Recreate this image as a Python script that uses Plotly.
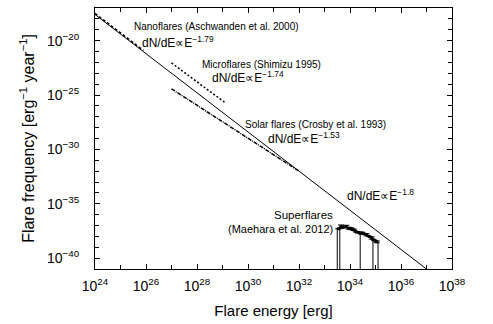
import numpy as np
import plotly.graph_objects as go

# ---- data (log10 units) ----
# power-law segments: [logE_start, logE_end], [logF_start, logF_end]
main_logE = [24.0, 37.0]
main_logF = [-17.6, -41.0]
nano_logE = [24.0, 25.9]
nano_logF = [-17.5, -20.9]
micro_logE = [27.0, 29.1]
micro_logF = [-22.05, -25.7]
solar_logE = [27.0, 32.0]
solar_logF = [-24.43, -32.0]

# superflare histogram (Maehara et al. 2012), 0.1-dex bins
sf_edges = [33.5, 33.6, 33.7, 33.8, 33.9, 34.0, 34.1, 34.2, 34.3, 34.4,
            34.5, 34.6, 34.7, 34.8, 34.9, 35.0, 35.1]
sf_logF = [-37.3, -37.1, -37.15, -37.1, -37.25, -37.3, -37.4, -37.6,
           -37.65, -37.7, -37.75, -37.85, -38.0, -38.15, -38.35, -38.5]
sf_err = [0.0, 0.15, 0.0, 0.12, 0.08, 0.08, 0.06, 0.0,
          0.0, 0.1, 0.0, 0.1, 0.0, 0.1, 0.0, 0.08]
sf_box_edges = [33.5, 33.6, 34.4, 34.9, 35.1]

x_tickvals = [24, 26, 28, 30, 32, 34, 36, 38]
x_minor = [25, 27, 29, 31, 33, 35, 37]
y_tickvals = [-40, -35, -30, -25, -20]
y_minor = [-41, -39, -38, -37, -36, -34, -33, -32, -31, -29, -28, -27,
           -26, -24, -23, -22, -21, -19, -18, -17]

FONT = "Liberation Sans, Arial, Helvetica, sans-serif"

def p(v):
    return [10.0 ** a for a in v]

fig = go.Figure()

fig.add_trace(go.Scatter(x=p(main_logE), y=p(main_logF), mode="lines",
                         line=dict(color="black", width=1), showlegend=False))
fig.add_trace(go.Scatter(x=p(nano_logE), y=p(nano_logF), mode="lines",
                         line=dict(color="black", width=1.5, dash="3px,2px"), showlegend=False))
fig.add_trace(go.Scatter(x=p(micro_logE), y=p(micro_logF), mode="lines",
                         line=dict(color="black", width=1.5, dash="2px,2px"), showlegend=False))
fig.add_trace(go.Scatter(x=p(solar_logE), y=p(solar_logF), mode="lines",
                         line=dict(color="black", width=1.5, dash="4px,1px,1px,1px"), showlegend=False))

# histogram step outline
step_x = p(sf_edges)
step_y = p(sf_logF + [sf_logF[-1]])
fig.add_trace(go.Scatter(x=step_x, y=step_y, mode="lines", line_shape="hv",
                         line=dict(color="black", width=1), showlegend=False))

# full-height box edges
vx, vy = [], []
for e in sf_box_edges:
    i = sf_edges.index(e)
    adj = []
    if i - 1 >= 0:
        adj.append(sf_logF[i - 1])
    if i < len(sf_logF):
        adj.append(sf_logF[i])
    vx += [10.0 ** e, 10.0 ** e, None]
    vy += [10.0 ** -41, 10.0 ** max(adj), None]
fig.add_trace(go.Scatter(x=vx, y=vy, mode="lines",
                         line=dict(color="black", width=1), showlegend=False))

# error bars at bin centres
cx = [10.0 ** ((a + b) / 2) for a, b in zip(sf_edges[:-1], sf_edges[1:])]
cy = p(sf_logF)
eu = [y * (10.0 ** e - 1) for y, e in zip(cy, sf_err)]
ed = [y * (1 - 10.0 ** -e) for y, e in zip(cy, sf_err)]
fig.add_trace(go.Scatter(x=cx, y=cy, mode="markers",
                         marker=dict(color="black", size=3, symbol="square"),
                         error_y=dict(type="data", array=eu, arrayminus=ed,
                                      color="black", thickness=1, width=3),
                         showlegend=False))

def ann(text, x, y, size, anchor="left"):
    fig.add_annotation(x=x, y=y, xref="x", yref="y", text=text, showarrow=False,
                       xanchor=anchor, yanchor="middle",
                       font=dict(family=FONT, size=size, color="black"))

ann("Nanoflares (Aschwanden et al. 2000)", 25.45, -18.66, 10)
ann("dN/dE∝E<sup>−1.79</sup>", 25.76, -20.1, 12)
ann("Microflares (Shimizu 1995)", 28.12, -22.15, 10)
ann("dN/dE∝E<sup>−1.74</sup>", 28.51, -23.35, 12)
ann("Solar flares (Crosby et al. 1993)", 29.79, -27.67, 10)
ann("dN/dE∝E<sup>−1.53</sup>", 30.69, -28.95, 12)
ann("dN/dE∝E<sup>−1.8</sup>", 33.8, -34.2, 12)
ann("Superflares", 32.16, -36.0, 11.5, "center")
ann("(Maehara et al. 2012)", 33.41, -37.28, 11, "right")

axis_common = dict(showline=True, linecolor="black", linewidth=1, mirror="ticks",
                   ticks="inside", ticklen=5, tickcolor="black", showgrid=False,
                   zeroline=False, tickfont=dict(family=FONT, size=14, color="black"))

fig.update_xaxes(type="log", range=[24, 38],
                 tickvals=[10.0 ** v for v in x_tickvals],
                 ticktext=["10<sup>%d</sup>" % v for v in x_tickvals],
                 minor=dict(tickvals=[10.0 ** v for v in x_minor], ticks="inside",
                            ticklen=4, tickcolor="black"),
                 ticklabelstandoff=4,
                 title=dict(text="Flare energy [erg]", font=dict(family=FONT, size=15, color="black"),
                            standoff=12),
                 **axis_common)
fig.update_yaxes(type="log", range=[-41, -17],
                 tickvals=[10.0 ** v for v in y_tickvals],
                 ticktext=["10<sup>−%d</sup>" % (-v) for v in y_tickvals],
                 minor=dict(tickvals=[10.0 ** v for v in y_minor], ticks="inside",
                            ticklen=4, tickcolor="black"),
                 ticklabelstandoff=12,
                 title=dict(text="Flare frequency [erg<sup>−1</sup> year<sup>−1</sup>]",
                            font=dict(family=FONT, size=16, color="black"), standoff=8),
                 **axis_common)

fig.update_layout(width=493, height=324, margin=dict(l=95, r=41, t=8, b=55),
                  paper_bgcolor="white", plot_bgcolor="white", showlegend=False,
                  font=dict(family=FONT, color="black"))

fig.write_html("out.html")
